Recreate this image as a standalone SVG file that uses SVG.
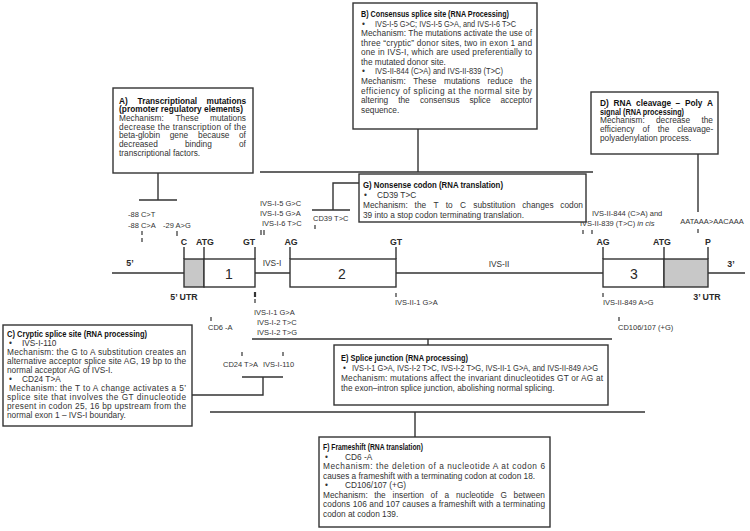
<svg xmlns="http://www.w3.org/2000/svg" width="750" height="531" viewBox="0 0 750 531">
<style>
.t{font-family:"Liberation Sans",Arial,sans-serif;font-size:8.3px;fill:#333}
.h{font-weight:bold;fill:#111}
.m{font-family:"Liberation Sans",Arial,sans-serif;font-size:7.5px;fill:#333}
.g{font-family:"Liberation Sans",Arial,sans-serif;font-weight:bold;font-size:8.8px;fill:#2a2a2a}
.n{font-family:"Liberation Sans",Arial,sans-serif;font-size:14px;fill:#2a2a2a}
.box{fill:#fff;stroke:#333;stroke-width:1.4}
.ln{stroke:#333;stroke-width:1.4;fill:none}
.tk{stroke:#333;stroke-width:1.2;fill:none}
.utr{fill:#c8c8c8;stroke:#333;stroke-width:1.4}
.ex{fill:#fff;stroke:#333;stroke-width:1.4}
</style>
<rect width="750" height="531" fill="#fff"/>

<g id="connectors" class="ln">
  <path d="M158,173 V200 M139,200 H177"/>
  <path d="M418,129 V172 M260,172 H593"/>
  <path d="M698,154 V212"/>
  <path d="M359,183 H333 V210 M312,210 H350"/>
  <path d="M252,339 H612 M428,339 V345"/>
  <path d="M192,395 H263 V377 M242,377 H283"/>
  <path d="M210,412 H645 M415,412 V437"/>
</g>

<g id="gene">
  <path class="ln" d="M112,273 H184 M255,273 H290 M396,273 H603 M708,273 H745"/>
  <rect class="utr" x="184" y="259" width="20" height="28"/>
  <rect class="ex" x="204" y="259" width="51" height="28"/>
  <rect class="ex" x="290" y="259" width="106" height="28"/>
  <rect class="ex" x="603" y="259" width="61" height="28"/>
  <rect class="utr" x="664" y="259" width="44" height="28"/>
  <path class="ln" d="M184,247 V259 M204,247 V259 M255,247 V259 M290,247 V259 M396,247 V259 M603,247 V259 M664,247 V259 M708,247 V259"/>
  <g class="tk">
    <path d="M142,231 V235 M142,238 V242 M177,231 V236 M261,230 V235 M264,230 V235 M315,225 V229 M583,230 V234 M592,230 V234 M698,229 V233"/>
    <path d="M255,299 V303 M396,293 V297 M603,293 V297 M211,317 V321 M619,317 V321 M242,352 V356 M283,352 V356"/>
    <path d="M255,292 V297" stroke-width="2.2"/>
  </g>
  <text class="g" x="130" y="266" text-anchor="middle" font-size="9.5">5’</text>
  <text class="g" x="731" y="267" text-anchor="middle" font-size="9.5">3’</text>
  <text class="g" x="184" y="245" text-anchor="middle">C</text>
  <text class="g" x="205" y="245" text-anchor="middle">ATG</text>
  <text class="g" x="249" y="245" text-anchor="middle">GT</text>
  <text class="g" x="291" y="245" text-anchor="middle">AG</text>
  <text class="g" x="396" y="245" text-anchor="middle">GT</text>
  <text class="g" x="603" y="245" text-anchor="middle">AG</text>
  <text class="g" x="662" y="245" text-anchor="middle">ATG</text>
  <text class="g" x="708" y="245" text-anchor="middle">P</text>
  <text class="n" x="229" y="279" text-anchor="middle">1</text>
  <text class="n" x="342" y="279" text-anchor="middle">2</text>
  <text class="n" x="634" y="279" text-anchor="middle">3</text>
  <text class="t" x="272" y="266" text-anchor="middle" font-size="8.6">IVS-I</text>
  <text class="t" x="499" y="267" text-anchor="middle" font-size="8.6">IVS-II</text>
  <text class="g" x="184" y="300" text-anchor="middle">5’ UTR</text>
  <text class="g" x="707" y="300" text-anchor="middle">3’ UTR</text>
  <text class="m" x="128" y="217">-88 C&gt;T</text>
  <text class="m" x="128" y="228">-88 C&gt;A</text>
  <text class="m" x="163" y="228">-29 A&gt;G</text>
  <text class="m" x="260" y="206">IVS-I-5 G&gt;C</text>
  <text class="m" x="260" y="216">IVS-I-5 G&gt;A</text>
  <text class="m" x="262" y="226">IVS-I-6 T&gt;C</text>
  <text class="m" x="313" y="221">CD39 T&gt;C</text>
  <text class="m" x="592" y="216">IVS-II-844 (C&gt;A) and</text>
  <text class="m" x="580" y="226">IVS-II-839 (T&gt;C) <tspan font-style="italic">in cis</tspan></text>
  <text class="m" x="712" y="224" text-anchor="middle">AATAAA&gt;AACAAA</text>
  <text class="m" x="254" y="315">IVS-I-1 G&gt;A</text>
  <text class="m" x="257" y="325">IVS-I-2 T&gt;C</text>
  <text class="m" x="257" y="335">IVS-I-2 T&gt;G</text>
  <text class="m" x="208" y="330">CD6 -A</text>
  <text class="m" x="395" y="305">IVS-II-1 G&gt;A</text>
  <text class="m" x="603" y="305">IVS-II-849 A&gt;G</text>
  <text class="m" x="618" y="330">CD106/107 (+G)</text>
  <text class="m" x="223" y="367">CD24 T&gt;A</text>
  <text class="m" x="263" y="367">IVS-I-110</text>
</g>

<g id="boxA">
  <rect class="box" x="113" y="88" width="140" height="85"/>
  <text class="t h" y="103.5"><tspan x="119">A)</tspan><tspan x="137.6">Transcriptional</tspan><tspan x="206.5">mutations</tspan></text>
  <text class="t h" x="119" y="112.2" textLength="124" lengthAdjust="spacing">(promoter regulatory elements)</text>
  <text class="t" y="120.9"><tspan x="119">Mechanism:</tspan><tspan x="175.5">These</tspan><tspan x="210">mutations</tspan></text>
  <text class="t" x="119" y="129.6" textLength="127" lengthAdjust="spacing">decrease the transcription of the</text>
  <text class="t" y="138.3"><tspan x="119">beta-globin</tspan><tspan x="169.7">gene</tspan><tspan x="198.1">because</tspan><tspan x="239">of</tspan></text>
  <text class="t" y="147"><tspan x="119">decreased</tspan><tspan x="185">binding</tspan><tspan x="239">of</tspan></text>
  <text class="t" x="119" y="155.7">transcriptional factors.</text>
</g>

<g id="boxB">
  <rect class="box" x="353" y="3" width="184" height="126"/>
  <text class="t h" x="361" y="17" textLength="148" lengthAdjust="spacingAndGlyphs">B) Consensus splice site (RNA Processing)</text>
  <text class="t" x="362" y="26.6">•</text>
  <text class="t" x="375" y="26.6" textLength="141" lengthAdjust="spacingAndGlyphs">IVS-I-5 G&gt;C; IVS-I-5 G&gt;A, and IVS-I-6 T&gt;C</text>
  <text class="t" x="361" y="36.1" textLength="171" lengthAdjust="spacing">Mechanism: The mutations activate the use of</text>
  <text class="t" x="361" y="45.7" textLength="171" lengthAdjust="spacing">three “cryptic” donor sites, two in exon 1 and</text>
  <text class="t" x="361" y="55.3" textLength="171" lengthAdjust="spacing">one in IVS-I, which are used preferentially to</text>
  <text class="t" x="361" y="64.9">the mutated donor site.</text>
  <text class="t" x="362" y="74.4">•</text>
  <text class="t" x="375" y="74.4" textLength="128" lengthAdjust="spacingAndGlyphs">IVS-II-844 (C&gt;A) and IVS-II-839 (T&gt;C)</text>
  <text class="t" y="84"><tspan x="361">Mechanism:</tspan><tspan x="413.2">These</tspan><tspan x="444">mutations</tspan><tspan x="487.5">reduce</tspan><tspan x="520.3">the</tspan></text>
  <text class="t" x="361" y="93.6" textLength="171" lengthAdjust="spacing">efficiency of splicing at the normal site by</text>
  <text class="t" y="103.1"><tspan x="361">altering</tspan><tspan x="398.2">the</tspan><tspan x="419.9">consensus</tspan><tspan x="469.4">splice</tspan><tspan x="500.4">acceptor</tspan></text>
  <text class="t" x="361" y="112.7">sequence.</text>
</g>

<g id="boxD">
  <rect class="box" x="591" y="92" width="127" height="62"/>
  <text class="t h" y="105.8"><tspan x="600">D)</tspan><tspan x="613.5">RNA</tspan><tspan x="636.1">cleavage</tspan><tspan x="675.5">–</tspan><tspan x="684.9">Poly</tspan><tspan x="707">A</tspan></text>
  <text class="t h" x="600" y="114.6" textLength="84" lengthAdjust="spacingAndGlyphs">signal (RNA processing)</text>
  <text class="t" y="123.4"><tspan x="600">Mechanism:</tspan><tspan x="656">decrease</tspan><tspan x="701.4">the</tspan></text>
  <text class="t" y="132.2"><tspan x="600">efficiency</tspan><tspan x="642.6">of</tspan><tspan x="657.8">the</tspan><tspan x="677.2">cleavage-</tspan></text>
  <text class="t" x="600" y="141">polyadenylation process.</text>
</g>

<g id="boxG">
  <rect class="box" x="359" y="174" width="227" height="48"/>
  <text class="t h" x="363" y="188" textLength="140" lengthAdjust="spacingAndGlyphs">G) Nonsense codon (RNA translation)</text>
  <text class="t" x="364" y="198">•</text>
  <text class="t" x="377" y="198">CD39 T&gt;C</text>
  <text class="t" y="208"><tspan x="363">Mechanism:</tspan><tspan x="414.6">the</tspan><tspan x="433.4">T</tspan><tspan x="445.8">to</tspan><tspan x="460">C</tspan><tspan x="473.3">substitution</tspan><tspan x="522.2">changes</tspan><tspan x="560.3">codon</tspan></text>
  <text class="t" x="363" y="218">39 into a stop codon terminating translation.</text>
</g>

<g id="boxC">
  <rect class="box" x="3" y="325" width="189" height="101"/>
  <text class="t h" x="7" y="336.8" textLength="140" lengthAdjust="spacingAndGlyphs">C) Cryptic splice site (RNA processing)</text>
  <text class="t" x="9" y="345.9">•</text>
  <text class="t" x="22" y="345.9">IVS-I-110</text>
  <text class="t" x="7" y="354.9" textLength="179" lengthAdjust="spacing">Mechanism: the G to A substitution creates an</text>
  <text class="t" x="7" y="364" textLength="179" lengthAdjust="spacing">alternative acceptor splice site AG, 19 bp to the</text>
  <text class="t" x="7" y="373">normal acceptor AG of IVS-I.</text>
  <text class="t" x="9" y="382.1">•</text>
  <text class="t" x="22" y="382.1">CD24 T&gt;A</text>
  <text class="t" x="9" y="391.1" textLength="177" lengthAdjust="spacing">Mechanism: the T to A change activates a 5’</text>
  <text class="t" x="7" y="400.2" textLength="179" lengthAdjust="spacing">splice site that involves the GT dinucleotide</text>
  <text class="t" x="7" y="409.2" textLength="179" lengthAdjust="spacing">present in codon 25, 16 bp upstream from the</text>
  <text class="t" x="7" y="418.3">normal exon 1 – IVS-I boundary.</text>
</g>

<g id="boxE">
  <rect class="box" x="334" y="345" width="274" height="60"/>
  <text class="t h" x="341" y="361" textLength="127" lengthAdjust="spacingAndGlyphs">E) Splice junction (RNA processing)</text>
  <text class="t" x="343" y="371">•</text>
  <text class="t" x="352" y="371" textLength="246" lengthAdjust="spacingAndGlyphs">IVS-I-1 G&gt;A, IVS-I-2 T&gt;C, IVS-I-2 T&gt;G, IVS-II-1 G&gt;A, and IVS-II-849 A&gt;G</text>
  <text class="t" x="341" y="381" textLength="262" lengthAdjust="spacing">Mechanism: mutations affect the invariant dinucleotides GT or AG at</text>
  <text class="t" x="341" y="391">the exon–intron splice junction, abolishing normal splicing.</text>
</g>

<g id="boxF">
  <rect class="box" x="319" y="437" width="231" height="90"/>
  <text class="t h" x="323" y="450" textLength="100" lengthAdjust="spacingAndGlyphs">F) Frameshift (RNA translation)</text>
  <text class="t" x="325" y="459.5">•</text>
  <text class="t" x="345" y="459.5">CD6 -A</text>
  <text class="t" x="323" y="469" textLength="222" lengthAdjust="spacing">Mechanism: the deletion of a nucleotide A at codon 6</text>
  <text class="t" x="323" y="478.5">causes a frameshift with a terminating codon at codon 18.</text>
  <text class="t" x="325" y="488">•</text>
  <text class="t" x="345" y="488">CD106/107 (+G)</text>
  <text class="t" y="497.5"><tspan x="323">Mechanism:</tspan><tspan x="374.2">the</tspan><tspan x="392.6">insertion</tspan><tspan x="430.6">of</tspan><tspan x="444.4">a</tspan><tspan x="456">nucleotide</tspan><tspan x="500.4">G</tspan><tspan x="513.6">between</tspan></text>
  <text class="t" x="323" y="507" textLength="222" lengthAdjust="spacing">codons 106 and 107 causes a frameshift with a terminating</text>
  <text class="t" x="323" y="516.5">codon at codon 139.</text>
</g>
</svg>
